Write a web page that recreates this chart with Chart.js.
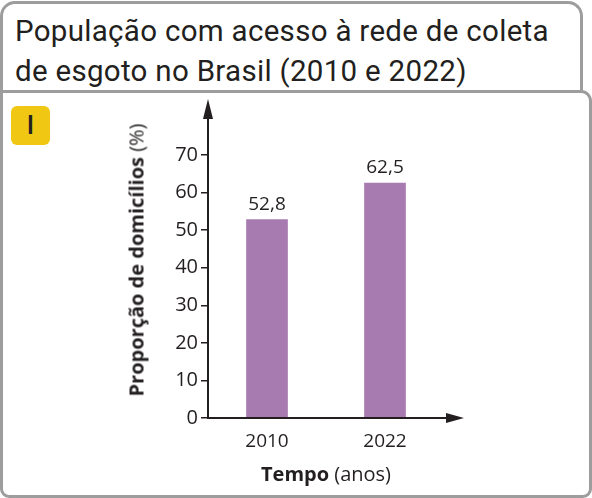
<!DOCTYPE html>
<html>
<head>
<meta charset="utf-8">
<script src="https://cdn.jsdelivr.net/npm/chart.js@4/dist/chart.umd.min.js"></script>
<style>
  html, body { margin: 0; padding: 0; background: #fff; }
  body { width: 592px; height: 498px; position: relative; overflow: hidden; }
  .card-top { position: absolute; left: 0; top: 1px; width: 583px; height: 93px; box-sizing: border-box;
    border: 3px solid #9d9d9d; border-bottom: none; border-radius: 15px 15px 0 0; }
  .card-bot { position: absolute; left: 0; top: 90px; width: 592px; height: 408px; box-sizing: border-box;
    border: 3px solid #9d9d9d; border-radius: 0 11px 9px 9px; background: #fff; }
  .title { position: absolute; left: 15px; top: 11px; font-family: "Roboto"; font-weight: 400;
    font-size: 29.5px; line-height: 40px; color: #231f20; letter-spacing: 0.3px; white-space: nowrap; }
  .badge { position: absolute; left: 11px; top: 106px; width: 39px; height: 39px; background: #f0c814; border-radius: 6px;
    font-family: "Roboto"; font-weight: 500; font-size: 26px; line-height: 39px; text-align: center; color: #231f20; }
  canvas { position: absolute; left: 0; top: 0; }
  .ytitle { position: absolute; left: 136px; top: 260px; transform: translate(-50%, -50%) rotate(-90deg); white-space: nowrap;
    font-family: "Open Sans"; font-size: 20px; color: #231f20; }
  .xtitle { position: absolute; left: 326px; top: 473px; transform: translate(-50%, -50%); white-space: nowrap;
    font-family: "Open Sans"; font-size: 20px; color: #231f20; }
  b { font-weight: 700; }
</style>
</head>
<body>
<div class="card-top"></div>
<div class="card-bot"></div>
<div class="title">População com acesso à rede de coleta<br>de esgoto no Brasil (2010 e 2022)</div>
<div class="badge">I</div>
<canvas id="c" width="592" height="498"></canvas>
<div class="ytitle"><b>Proporção de domicílios</b> (%)</div>
<div class="xtitle"><b>Tempo</b> (anos)</div>
<script>
const categories = ['2010', '2022'];
const proportionValues = [52.8, 62.5];
const valueLabels = ['52,8', '62,5'];
const yTickValues = [0, 10, 20, 30, 40, 50, 60, 70];

const ink = '#231f20';

const arrowPlugin = {
  id: 'arrows',
  afterDraw(chart) {
    const ctx = chart.ctx;
    const a = chart.chartArea;
    const x0 = a.left, y0 = a.bottom;
    ctx.save();
    ctx.strokeStyle = ink;
    ctx.fillStyle = ink;
    ctx.lineWidth = 2;
    // y axis
    ctx.beginPath();
    ctx.moveTo(x0, y0 + 1);
    ctx.lineTo(x0, a.top - 40);
    ctx.stroke();
    ctx.beginPath();
    ctx.moveTo(x0, a.top - 56);
    ctx.lineTo(x0 - 5, a.top - 36);
    ctx.lineTo(x0 + 5, a.top - 36);
    ctx.closePath();
    ctx.fill();
    // x axis
    ctx.beginPath();
    ctx.moveTo(x0 - 1, y0);
    ctx.lineTo(a.right + 8, y0);
    ctx.stroke();
    ctx.beginPath();
    ctx.moveTo(a.right + 20, y0);
    ctx.lineTo(a.right + 2, y0 - 5);
    ctx.lineTo(a.right + 2, y0 + 5);
    ctx.closePath();
    ctx.fill();
    // value labels
    ctx.font = '19px "Open Sans"';
    ctx.textAlign = 'center';
    ctx.textBaseline = 'bottom';
    const meta = chart.getDatasetMeta(0);
    meta.data.forEach((bar, i) => {
      ctx.fillText(valueLabels[i], bar.x, bar.y - 6);
    });
    ctx.restore();
  }
};

new Chart(document.getElementById('c'), {
  type: 'bar',
  data: {
    labels: categories,
    datasets: [{
      data: proportionValues,
      backgroundColor: '#a87bb0',
      borderWidth: 0,
      barThickness: 41
    }]
  },
  options: {
    responsive: false,
    animation: false,
    devicePixelRatio: 1,
    layout: { padding: { left: 141, right: 148, top: 155, bottom: 40 } },
    plugins: { legend: { display: false }, tooltip: { enabled: false } },
    scales: {
      x: {
        grid: { display: false },
        border: { display: false },
        ticks: { font: { family: 'Open Sans', size: 19 }, color: ink, padding: 4 },
        afterFit(s) { s.height = 40; }
      },
      y: {
        min: 0, max: 70,
        afterBuildTicks(s) { s.ticks = yTickValues.map(v => ({ value: v })); },
        grid: { drawOnChartArea: false, color: ink, tickLength: 7, lineWidth: 1.5 },
        border: { display: false },
        ticks: { font: { family: 'Open Sans', size: 20 }, color: ink, padding: 3 },
        afterFit(s) { s.width = 67; }
      }
    }
  },
  plugins: [arrowPlugin]
});
</script>
</body>
</html>
